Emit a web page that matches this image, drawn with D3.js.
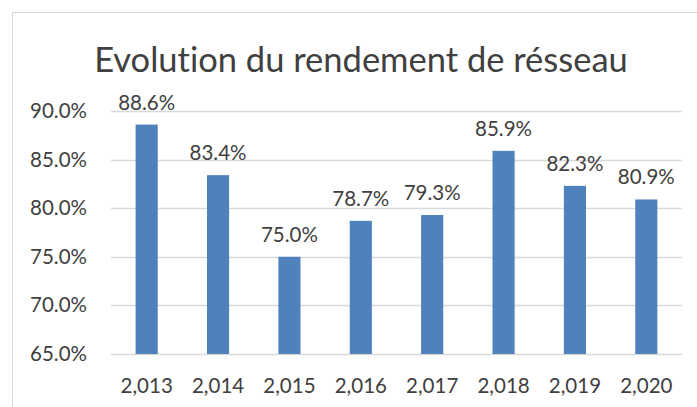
<!DOCTYPE html>
<html>
<head>
<meta charset="utf-8">
<script src="https://cdn.jsdelivr.net/npm/d3@7"></script>
<style>
  body { margin: 0; background: #fff; }
  text { font-family: Lato, "Open Sans", sans-serif; fill: #404040; font-variant-ligatures: none; }
</style>
</head>
<body>
<svg id="chart" width="697" height="407"></svg>
<script>
// Data
const years = ["2,013", "2,014", "2,015", "2,016", "2,017", "2,018", "2,019", "2,020"];
const rendement = [88.6, 83.4, 75.0, 78.7, 79.3, 85.9, 82.3, 80.9];
const yTicks = [65, 70, 75, 80, 85, 90];
const chartTitle = "Evolution du rendement de résseau";

function drawChart() {
    const svg = d3.select("#chart");
    svg.selectAll("*").remove();

    const margin = { top: 111, right: 15, bottom: 53, left: 111 };
    const width = +svg.attr("width");
    const height = +svg.attr("height");
    const plotWidth = width - margin.left - margin.right;
    const plotHeight = height - margin.top - margin.bottom;

    // outer chart border
    svg.append("rect")
        .attr("x", 12.5).attr("y", 12.5)
        .attr("width", width).attr("height", height)
        .attr("fill", "none")
        .attr("stroke", "#d9d9d9");

    svg.append("text")
        .attr("x", 361)
        .attr("y", 72)
        .attr("text-anchor", "middle")
        .attr("font-size", "34.5px")
        .text(chartTitle);

    const g = svg.append("g")
        .attr("transform", `translate(${margin.left},${margin.top})`);

    const x = d3.scaleBand()
        .domain(years)
        .range([0, plotWidth])
        .paddingInner(0.69)
        .paddingOuter(0.345);

    const y = d3.scaleLinear()
        .domain([65, 90])
        .range([plotHeight, 0]);

    // gridlines
    g.selectAll("line.grid")
        .data(yTicks)
        .enter().append("line")
        .attr("class", "grid")
        .attr("x1", 0).attr("x2", plotWidth)
        .attr("y1", d => Math.round(y(d)) + 0.5)
        .attr("y2", d => Math.round(y(d)) + 0.5)
        .attr("stroke", "#d9d9d9")
        .attr("stroke-width", 1.5);

    // y axis labels
    const yAxis = g.append("g")
        .call(d3.axisLeft(y).tickValues(yTicks).tickFormat(d => d.toFixed(1) + "%").tickSize(0).tickPadding(24));
    yAxis.select(".domain").remove();
    yAxis.selectAll("text").attr("font-size", "20.5px").attr("fill", "#404040");

    // x axis labels
    const xAxis = g.append("g")
        .attr("transform", `translate(0,${plotHeight})`)
        .call(d3.axisBottom(x).tickSize(0).tickPadding(0));
    xAxis.select(".domain").remove();
    xAxis.selectAll("text")
        .attr("font-size", "20.5px")
        .attr("fill", "#404040")
        .attr("dy", null)
        .attr("y", 39);

    // bars
    g.selectAll("rect.bar")
        .data(rendement)
        .enter().append("rect")
        .attr("class", "bar")
        .attr("x", (d, i) => x(years[i]))
        .attr("y", d => y(d))
        .attr("width", x.bandwidth())
        .attr("height", d => plotHeight - y(d))
        .attr("fill", "#4f81bd");

    // value labels
    g.selectAll("text.label")
        .data(rendement)
        .enter().append("text")
        .attr("class", "label")
        .attr("x", (d, i) => x(years[i]) + x.bandwidth() / 2)
        .attr("y", d => y(d) - 15)
        .attr("text-anchor", "middle")
        .attr("font-size", "20.5px")
        .text(d => d.toFixed(1) + "%");
}

drawChart();
</script>
</body>
</html>
